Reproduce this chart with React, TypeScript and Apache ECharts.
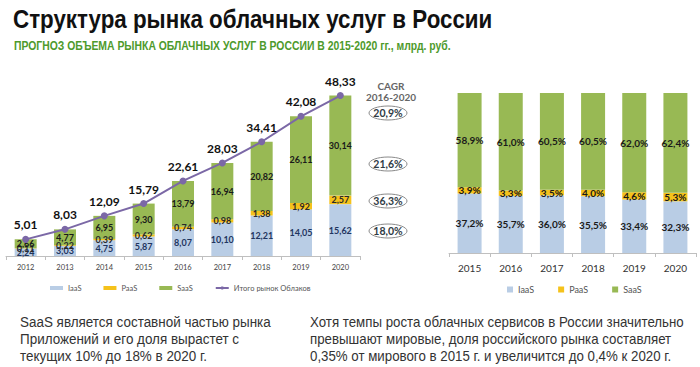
import React, { useEffect, useRef } from "react";
import * as echarts from "echarts";

const years = ["2012", "2013", "2014", "2015", "2016", "2017", "2018", "2019", "2020"];
const iaas = [2.24, 3.03, 4.75, 5.87, 8.07, 10.1, 12.21, 14.05, 15.62];
const paas = [0.11, 0.22, 0.39, 0.62, 0.74, 0.98, 1.38, 1.92, 2.57];
const saas = [2.66, 4.77, 6.95, 9.3, 13.79, 16.94, 20.82, 26.11, 30.14];
const total = [5.01, 8.03, 12.09, 15.79, 22.61, 28.03, 34.41, 42.08, 48.33];

const shareYears = ["2015", "2016", "2017", "2018", "2019", "2020"];
const iaasShare = [37.2, 35.7, 36.0, 35.5, 33.4, 32.3];
const paasShare = [3.9, 3.3, 3.5, 4.0, 4.6, 5.3];
const saasShare = [58.9, 61.0, 60.5, 60.5, 62.0, 62.4];

const cagrTitle = "CAGR\n2016-2020";
const cagrLabels = ["20,9%", "21,6%", "36,3%", "18,0%"];

const title = "Структура рынка облачных услуг в России";
const subtitle = "ПРОГНОЗ ОБЪЕМА РЫНКА ОБЛАЧНЫХ УСЛУГ В РОССИИ В 2015-2020 гг., млрд. руб.";
const noteLeft = "SaaS является составной частью рынка\nПриложений и его доля вырастет с\nтекущих 10% до 18% в 2020 г.";
const noteRight =
  "Хотя темпы роста облачных сервисов в России значительно\nпревышают мировые, доля российского рынка составляет\n0,35% от мирового в 2015 г. и увеличится до 0,4% к 2020 г.";

const C_IAAS = "#b9cde5";
const C_PAAS = "#f5c21b";
const C_SAAS = "#98b954";
const C_LINE = "#7b68a6";
const NUM_FONT = "Lato, 'DejaVu Sans', sans-serif";
const TXT_FONT = "'Liberation Sans', Arial, sans-serif";

const fmt2 = (v: number) => v.toFixed(2).replace(".", ",");
const fmtPct = (v: number) => v.toFixed(1).replace(".", ",") + "%";

export default function App() {
  const ref = useRef<HTMLDivElement>(null);
  useEffect(() => {
    if (!ref.current) return;
    const chart = echarts.init(ref.current, undefined, { renderer: "svg" });
    const cagrY = [113, 164, 201, 231];
    const cagrX = 388;
    const graphic: any[] = [
      {
        type: "text",
        x: 13,
        y: 6,
        scaleX: 0.86,
        style: { text: title, fontSize: 26, fontWeight: "bold", fontFamily: TXT_FONT, fill: "#111" },
      },
      {
        type: "text",
        x: 14,
        y: 39,
        scaleX: 0.8,
        style: { text: subtitle, fontSize: 13, fontWeight: "bold", fontFamily: TXT_FONT, fill: "#4e9a2c" },
      },
      {
        type: "text",
        x: cagrX + 3,
        y: 80,
        style: {
          text: cagrTitle,
          fontSize: 10,
          fontWeight: "bold",
          fontFamily: NUM_FONT,
          fill: "#666",
          align: "center",
          lineHeight: 11,
        },
      },
      {
        type: "text",
        x: 20,
        y: 314,
        scaleX: 0.96,
        style: { text: noteLeft, fontSize: 14, fontFamily: TXT_FONT, fill: "#333", lineHeight: 17 },
      },
      {
        type: "text",
        x: 310,
        y: 314,
        scaleX: 0.95,
        style: { text: noteRight, fontSize: 14, fontFamily: TXT_FONT, fill: "#333", lineHeight: 17 },
      },
    ];
    cagrLabels.forEach((t, i) => {
      graphic.push({
        type: "ellipse",
        shape: { cx: cagrX, cy: cagrY[i], rx: 19, ry: 7 },
        style: { fill: "#fff", stroke: "#8a8a8a", lineWidth: 1 },
      });
      graphic.push({
        type: "text",
        x: cagrX,
        y: cagrY[i],
        style: {
          text: t,
          fontSize: 10.5,
          fontWeight: "bold",
          fontFamily: NUM_FONT,
          fill: "#2f3b45",
          align: "center",
          verticalAlign: "middle",
        },
      });
    });

    const barLabel = (color: string) => ({
      show: true,
      position: "inside",
      fontSize: 9,
      fontWeight: "bold",
      fontFamily: NUM_FONT,
      color,
      formatter: (p: any) => fmt2(p.value),
    });
    const shareLabel = {
      show: true,
      position: "inside",
      fontSize: 10,
      fontWeight: "bold",
      fontFamily: NUM_FONT,
      color: "#1a1a1a",
      formatter: (p: any) => fmtPct(p.value),
    };

    chart.setOption({
      animation: false,
      graphic,
      grid: [
        { left: 6, right: 340, top: 90, bottom: 111 },
        { left: 449, right: 4, top: 93, bottom: 114 },
      ],
      xAxis: [
        {
          type: "category",
          gridIndex: 0,
          data: years,
          axisLine: { lineStyle: { color: "#bfbfbf" } },
          axisTick: { show: true, length: 4, lineStyle: { color: "#bfbfbf" } },
          axisLabel: { fontSize: 7.5, color: "#444", fontFamily: NUM_FONT, margin: 7 },
        },
        {
          type: "category",
          gridIndex: 1,
          data: shareYears,
          axisLine: { lineStyle: { color: "#bfbfbf" } },
          axisTick: { show: true, length: 4, lineStyle: { color: "#bfbfbf" } },
          axisLabel: { fontSize: 10, color: "#333", fontFamily: NUM_FONT, margin: 10 },
        },
      ],
      yAxis: [
        { type: "value", gridIndex: 0, min: 0, max: 50, show: false, splitLine: { show: false } },
        { type: "value", gridIndex: 1, min: 0, max: 100, show: false, splitLine: { show: false } },
      ],
      legend: [
        {
          left: 45,
          top: 279,
          itemWidth: 13,
          itemHeight: 4,
          itemGap: 22,
          textStyle: { fontSize: 7.5, color: "#555", fontFamily: NUM_FONT },
          data: [
            { name: "IaaS", icon: "rect" },
            { name: "PaaS", icon: "rect" },
            { name: "SaaS", icon: "rect" },
            { name: "Итого рынок Облаков" },
          ],
        },
        {
          left: 502,
          top: 280,
          itemWidth: 6,
          itemHeight: 6,
          itemGap: 24,
          textStyle: { fontSize: 9, color: "#555", fontFamily: NUM_FONT },
          data: [
            { name: "IaaS", icon: "rect" },
            { name: "PaaS", icon: "rect" },
            { name: "SaaS", icon: "rect" },
          ],
        },
      ],
      series: [
        {
          name: "IaaS",
          type: "bar",
          stack: "a",
          xAxisIndex: 0,
          yAxisIndex: 0,
          barWidth: 22,
          data: iaas,
          itemStyle: { color: C_IAAS },
          label: barLabel("#1f3560"),
        },
        {
          name: "PaaS",
          type: "bar",
          stack: "a",
          xAxisIndex: 0,
          yAxisIndex: 0,
          barWidth: 22,
          data: paas,
          itemStyle: { color: C_PAAS },
          label: barLabel("#2a2a2a"),
        },
        {
          name: "SaaS",
          type: "bar",
          stack: "a",
          xAxisIndex: 0,
          yAxisIndex: 0,
          barWidth: 22,
          data: saas,
          itemStyle: { color: C_SAAS },
          label: barLabel("#1a1a1a"),
        },
        {
          name: "Итого рынок Облаков",
          type: "line",
          xAxisIndex: 0,
          yAxisIndex: 0,
          data: total,
          symbol: "circle",
          symbolSize: 7,
          lineStyle: { color: C_LINE, width: 2 },
          itemStyle: { color: C_LINE },
          label: {
            show: true,
            position: "top",
            distance: 5,
            fontSize: 12,
            fontWeight: "bold",
            fontFamily: NUM_FONT,
            color: "#111",
            formatter: (p: any) => fmt2(p.value),
          },
          z: 5,
        },
        {
          name: "IaaS",
          type: "bar",
          stack: "b",
          xAxisIndex: 1,
          yAxisIndex: 1,
          barWidth: 24,
          data: iaasShare,
          itemStyle: { color: C_IAAS },
          label: shareLabel,
        },
        {
          name: "PaaS",
          type: "bar",
          stack: "b",
          xAxisIndex: 1,
          yAxisIndex: 1,
          barWidth: 24,
          data: paasShare,
          itemStyle: { color: C_PAAS },
          label: shareLabel,
        },
        {
          name: "SaaS",
          type: "bar",
          stack: "b",
          xAxisIndex: 1,
          yAxisIndex: 1,
          barWidth: 24,
          data: saasShare,
          itemStyle: { color: C_SAAS },
          label: shareLabel,
        },
      ],
    });
    return () => chart.dispose();
  }, []);
  return (
    <div
      ref={ref}
      style={{ position: "fixed", left: 0, top: 0, width: 700, height: 367, background: "#fff" }}
    />
  );
}
